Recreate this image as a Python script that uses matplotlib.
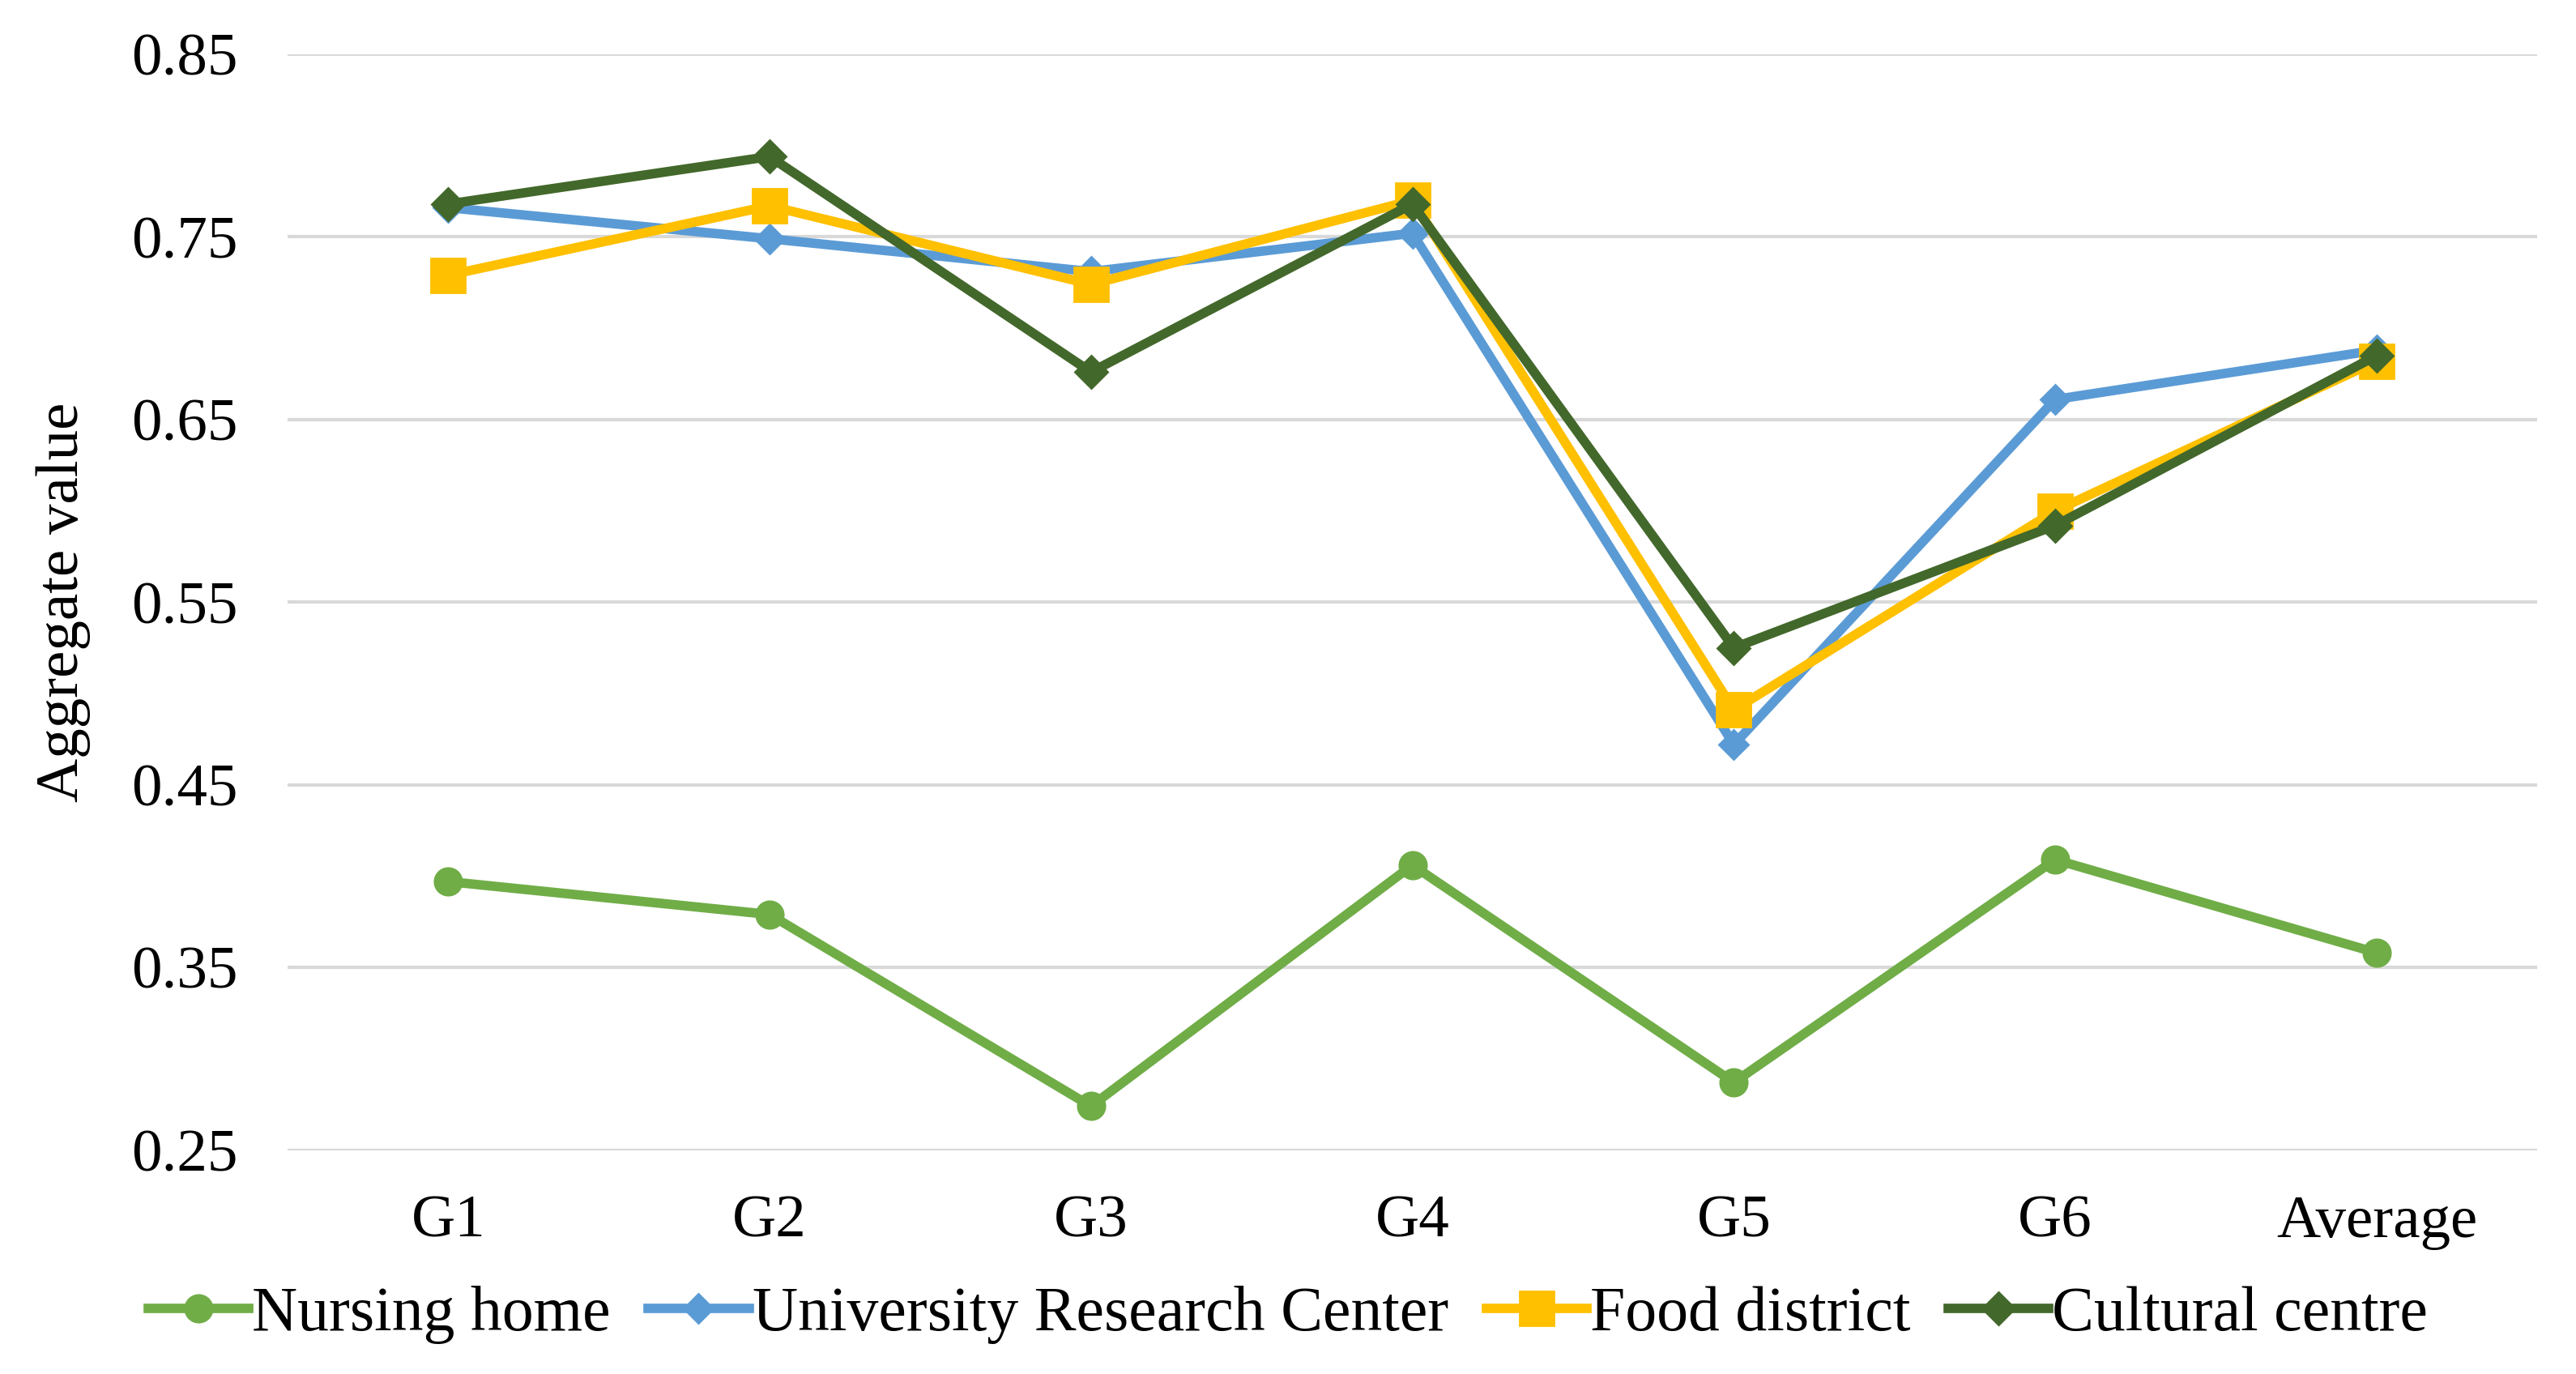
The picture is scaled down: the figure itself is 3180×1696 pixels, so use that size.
import matplotlib.pyplot as plt

groups = ["G1", "G2", "G3", "G4", "G5", "G6", "Average"]
nursing_home = [0.397, 0.379, 0.274, 0.406, 0.287, 0.409, 0.358]
university_rc = [0.766, 0.749, 0.731, 0.752, 0.472, 0.661, 0.688]
food_district = [0.729, 0.767, 0.724, 0.770, 0.491, 0.600, 0.682]
cultural_centre = [0.768, 0.794, 0.676, 0.768, 0.525, 0.592, 0.685]
y_ticks = [0.25, 0.35, 0.45, 0.55, 0.65, 0.75, 0.85]

plt.rcParams['font.family'] = ['Liberation Serif', 'DejaVu Serif']

fig = plt.figure(figsize=(15.9, 8.48), dpi=200)
ax = fig.add_axes([0.1116, 0.163, 0.8734, 0.7975])

x = list(range(len(groups)))
ax.plot(x, nursing_home, color="#70AD47", lw=4.2, marker="o", ms=12,
        label="Nursing home")
ax.plot(x, university_rc, color="#5B9BD5", lw=4.2, marker="D", ms=9,
        label="University Research Center")
ax.plot(x, food_district, color="#FFC000", lw=4.2, marker="s", ms=15,
        label="Food district")
ax.plot(x, cultural_centre, color="#43682B", lw=4.2, marker="D", ms=10,
        label="Cultural centre")

ax.set_xlim(-0.5, len(groups) - 0.5)
ax.set_ylim(0.25, 0.85)
ax.set_yticks(y_ticks)
ax.set_yticklabels(["{:.2f}".format(v) for v in y_ticks])
ax.set_xticks(x)
ax.set_xticklabels(groups)
ax.tick_params(axis="both", length=0, labelsize=27)
ax.tick_params(axis="x", pad=20)
ax.tick_params(axis="y", pad=22)
ax.grid(axis="y", color="#D9D9D9", lw=1.5)
ax.set_axisbelow(True)
for s in ax.spines.values():
    s.set_visible(False)

ax.set_ylabel("Aggregate value", fontsize=27, labelpad=18)

fig.legend(loc="center", bbox_to_anchor=(0.5, 0.043), ncol=4, frameon=False,
           fontsize=28, handlelength=1.6, handletextpad=0.05,
           columnspacing=0.6)

fig.savefig("out.png")
